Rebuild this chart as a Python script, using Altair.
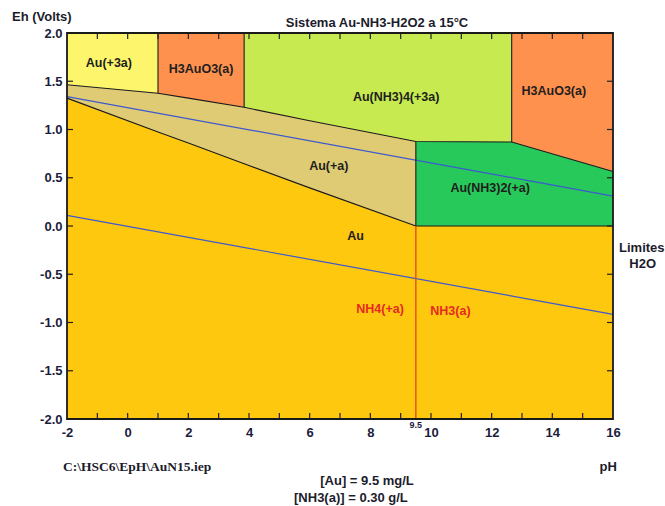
import altair as alt
import pandas as pd

PH_MIN, PH_MAX = -2.0, 16.0
EH_MIN, EH_MAX = -2.0, 2.0

# pH grid shared by the stability-field boundaries
grid_ph = [-2.0, 1.0, 2.0, 3.84, 6.0, 9.5, 12.66, 16.0]
# lower edge of the oxidised fields (top band)
upper_eh = [1.464, 1.375, 1.325, 1.23, 1.09, 0.875, 0.87, 0.565]
# upper edge of metallic Au (bottom band)
lower_eh = [1.325, 0.975, 0.86, 0.645, 0.395, 0.0, 0.0, 0.0]

# stability fields: species, band, pH range
field_species = ["Au(+3a)", "H3AuO3(a)", "Au(NH3)4(+3a)", "H3AuO3(a)",
                 "Au(+a)", "Au(NH3)2(+a)", "Au"]
field_band = ["top", "top", "top", "top", "mid", "mid", "low"]
field_from = [-2.0, 1.0, 3.84, 12.66, -2.0, 9.5, -2.0]
field_to = [1.0, 3.84, 12.66, 16.0, 9.5, 16.0, 16.0]

species_names = ["Au(+3a)", "H3AuO3(a)", "Au(NH3)4(+3a)", "Au(+a)",
                 "Au(NH3)2(+a)", "Au"]
species_colors = ["#fdf66c", "#fe914d", "#c6ea4f", "#dfcb74",
                  "#27c95b", "#fec80f"]

# water stability limits (O2/H2O and H2O/H2) at 15 °C
water_ph = [-2.0, 16.0]
o2_eh = [1.34, 0.31]
h2_eh = [0.11, -0.915]

# NH4+/NH3 equilibrium pH
nh_pka = 9.5

# field labels
label_text = ["Au(+3a)", "H3AuO3(a)", "Au(NH3)4(+3a)", "H3AuO3(a)",
              "Au(+a)", "Au(NH3)2(+a)", "Au"]
label_ph = [-0.62, 2.42, 8.85, 14.05, 6.63, 11.95, 7.51]
label_eh = [1.69, 1.627, 1.34, 1.402, 0.625, 0.39, -0.10]

nh_text = ["NH4(+a)", "NH3(a)"]
nh_ph = [8.32, 10.64]
nh_eh = [-0.864, -0.878]

side_text = ["Sistema Au-NH3-H2O2 a 15°C", "Eh (Volts)", "pH", "Limites", "H2O",
             "[Au] = 9.5 mg/L", "[NH3(a)] = 0.30 g/L"]
side_ph = [8.22, -2.83, 15.84, 16.95, 16.98, 7.89, 7.36]
side_eh = [2.107, 2.169, -2.494, -0.225, -0.394, -2.639, -2.822]

file_text = ["C:\\HSC6\\EpH\\AuN15.iep"]
file_ph = [0.31]
file_eh = [-2.494]


def eh_at(curve, ph):
    return curve[grid_ph.index(ph)]


# ---- filled stability fields ----
rows = []
for i, (sp, band, a, b) in enumerate(zip(field_species, field_band, field_from, field_to)):
    for ph, up, lo in zip(grid_ph, upper_eh, lower_eh):
        if a <= ph <= b:
            if band == "top":
                y, y2 = up, EH_MAX
            elif band == "mid":
                y, y2 = lo, up
            else:
                y, y2 = EH_MIN, lo
            rows.append({"zone": f"z{i}", "species": sp, "pH": ph, "lo": y, "hi": y2})
fields = pd.DataFrame(rows)

x_scale = alt.Scale(domain=[PH_MIN, PH_MAX], nice=False, zero=False)
y_scale = alt.Scale(domain=[EH_MIN, EH_MAX], nice=False, zero=False)

x_axis = alt.Axis(values=list(range(-2, 17, 2)), title=None, ticks=False, domain=False,
                  grid=False, labelPadding=7, labelFlush=False,
                  labelExpr="datum.value < 0 ? '-' + format(abs(datum.value), 'd') : format(datum.value, 'd')")
y_axis = alt.Axis(values=[-2, -1.5, -1, -0.5, 0, 0.5, 1, 1.5, 2], title=None, ticks=False,
                  domain=False, grid=False, labelPadding=5, labelFlush=False,
                  labelExpr="datum.value < 0 ? '-' + format(abs(datum.value), '.1f') : format(datum.value, '.1f')")

# one area layer per field, each drawn with its species colour
colour_of = dict(zip(species_names, species_colors))
area_layers = []
for i, sp in enumerate(field_species):
    sub = fields[fields["zone"] == f"z{i}"]
    area_layers.append(
        alt.Chart(sub).mark_area(color=colour_of[sp], opacity=1).encode(
            x=alt.X("pH:Q", scale=x_scale, axis=x_axis),
            y=alt.Y("lo:Q", scale=y_scale, axis=y_axis),
            y2="hi:Q",
        )
    )

# ---- boundary lines between fields ----
seg_rows = []


def add_seg(name, pts):
    for k, (ph, eh) in enumerate(pts):
        seg_rows.append({"seg": name, "k": k, "pH": ph, "Eh": eh})


add_seg("upper", list(zip(grid_ph, upper_eh)))
add_seg("lower", [(p, e) for p, e in zip(grid_ph, lower_eh) if p <= nh_pka])
add_seg("zero", [(nh_pka, 0.0), (PH_MAX, 0.0)])
for p in [1.0, 3.84, 12.66]:
    add_seg(f"v{p}", [(p, eh_at(upper_eh, p)), (p, EH_MAX)])
add_seg("v9.5", [(nh_pka, 0.0), (nh_pka, eh_at(upper_eh, nh_pka))])
segs = pd.DataFrame(seg_rows)

borders = alt.Chart(segs).mark_line(color="#1a1a1a", strokeWidth=1.1).encode(
    x=alt.X("pH:Q", axis=x_axis), y=alt.Y("Eh:Q", axis=y_axis), detail="seg:N", order="k:Q"
)

water = pd.DataFrame(
    [{"line": "o2", "pH": p, "Eh": e} for p, e in zip(water_ph, o2_eh)]
    + [{"line": "h2", "pH": p, "Eh": e} for p, e in zip(water_ph, h2_eh)]
)
water_lines = alt.Chart(water).mark_line(color="#3d58d0", strokeWidth=1.2).encode(
    x=alt.X("pH:Q", axis=x_axis), y=alt.Y("Eh:Q", axis=y_axis), detail="line:N"
)

nh_line = alt.Chart(pd.DataFrame({"pH": [nh_pka], "lo": [EH_MIN], "hi": [0.0]})).mark_rule(
    color="#e8521c", strokeWidth=1.5
).encode(x=alt.X("pH:Q", axis=x_axis), y=alt.Y("lo:Q", axis=y_axis), y2="hi:Q")

# ---- inward tick marks on all four sides ----
tick_len_eh = 6 / 96.5
tick_len_ph = 6 / 30.33
tick_rows = []
for p in range(-1, 16):
    tick_rows.append({"x": p, "x2": p, "y": EH_MIN, "y2": EH_MIN + tick_len_eh})
    tick_rows.append({"x": p, "x2": p, "y": EH_MAX, "y2": EH_MAX - tick_len_eh})
for e in [-1.5, -1.0, -0.5, 0.0, 0.5, 1.0, 1.5]:
    tick_rows.append({"x": PH_MIN, "x2": PH_MIN + tick_len_ph, "y": e, "y2": e})
    tick_rows.append({"x": PH_MAX, "x2": PH_MAX - tick_len_ph, "y": e, "y2": e})
ticks = alt.Chart(pd.DataFrame(tick_rows)).mark_rule(color="#222222", strokeWidth=1.2).encode(
    x=alt.X("x:Q", axis=x_axis), x2="x2:Q", y=alt.Y("y:Q", axis=y_axis), y2="y2:Q"
)

# plot frame, drawn above the filled fields
frame = alt.Chart(pd.DataFrame({"x": [PH_MIN], "x2": [PH_MAX], "y": [EH_MIN], "y2": [EH_MAX]})).mark_rect(
    fillOpacity=0, stroke="#1a1a1a", strokeWidth=1.8
).encode(x=alt.X("x:Q", axis=x_axis), x2="x2:Q", y=alt.Y("y:Q", axis=y_axis), y2="y2:Q")

# ---- text ----
field_labels = alt.Chart(pd.DataFrame({"t": label_text, "pH": label_ph, "Eh": label_eh})).mark_text(
    font="Liberation Sans", fontSize=12.5, fontWeight="bold", color="#1e1e1e"
).encode(x=alt.X("pH:Q", axis=x_axis), y=alt.Y("Eh:Q", axis=y_axis), text="t:N")

nh_labels = alt.Chart(pd.DataFrame({"t": nh_text, "pH": nh_ph, "Eh": nh_eh})).mark_text(
    font="Liberation Sans", fontSize=12.5, fontWeight="bold", color="#e52a22"
).encode(x=alt.X("pH:Q", axis=x_axis), y=alt.Y("Eh:Q", axis=y_axis), text="t:N")

side_labels = alt.Chart(pd.DataFrame({"t": side_text, "pH": side_ph, "Eh": side_eh})).mark_text(
    font="Liberation Sans", fontSize=13, fontWeight="bold", color="#1c1c2c"
).encode(x=alt.X("pH:Q", axis=x_axis), y=alt.Y("Eh:Q", axis=y_axis), text="t:N")

file_label = alt.Chart(pd.DataFrame({"t": file_text, "pH": file_ph, "Eh": file_eh})).mark_text(
    font="Liberation Serif", fontSize=13.5, fontWeight="bold", color="#1c1c2c"
).encode(x=alt.X("pH:Q", axis=x_axis), y=alt.Y("Eh:Q", axis=y_axis), text="t:N")

pka_label = alt.Chart(pd.DataFrame({"t": ["9.5"], "pH": [nh_pka], "Eh": [-2.062]})).mark_text(
    font="Liberation Sans", fontSize=9, fontWeight="bold", color="#1c1c3c"
).encode(x=alt.X("pH:Q", axis=x_axis), y=alt.Y("Eh:Q", axis=y_axis), text="t:N")

chart = alt.layer(
    *area_layers, water_lines, borders, nh_line, ticks, frame,
    field_labels, nh_labels, side_labels, file_label, pka_label,
).properties(
    width=546,
    height=386,
    autosize=alt.AutoSizeParams(type="none"),
    padding={"left": 67, "top": 33, "right": 52, "bottom": 87},
    background="white",
).configure_view(
    strokeWidth=0
).configure_axis(
    labelFont="Liberation Sans", labelFontSize=13, labelFontWeight="bold", labelColor="#1c1c3c"
)

chart.save("out.html", embed_options={"renderer": "svg", "actions": False})
